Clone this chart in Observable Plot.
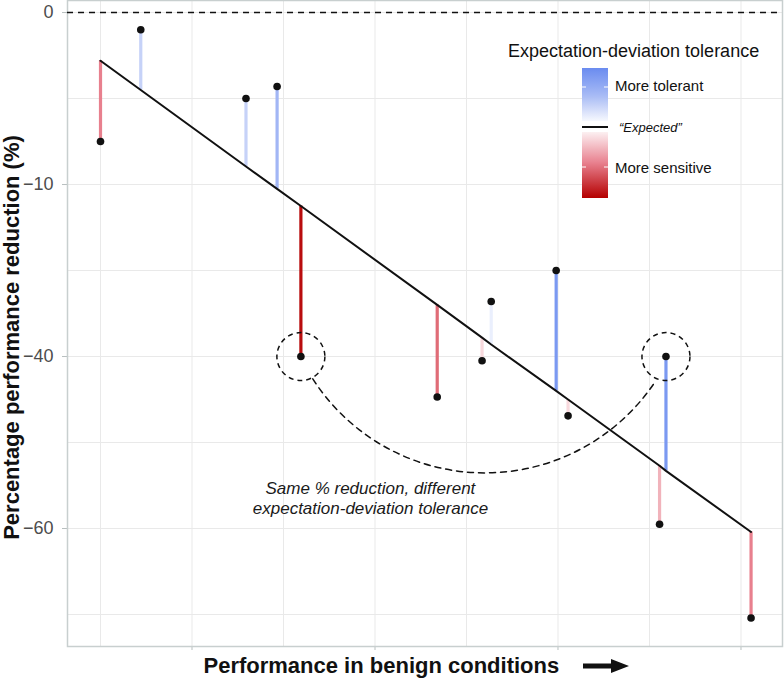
<!DOCTYPE html>
<html><head><meta charset="utf-8">
<script src="https://cdn.jsdelivr.net/npm/d3@7"></script>
<script src="https://cdn.jsdelivr.net/npm/@observablehq/plot@0.6"></script>
<style>
body{margin:0;background:#fff;}
#wrap{position:relative;width:784px;height:679px;}
#wrap svg{position:absolute;left:0;top:0;}
</style></head><body><div id="wrap"></div>
<script>
const FONT = '"Liberation Sans", Arial, Helvetica, sans-serif';

// ---- data ----
const xPos      = [0.0, 0.44, 1.59, 1.93, 2.19, 3.68, 4.17, 4.27, 4.98, 5.11, 6.11, 6.18, 7.11];
const observed  = [-15.0, -2.0, -10.0, -8.6, -40.0, -44.7, -40.5, -33.6, -30.0, -46.9, -59.5, -40.0, -70.4];
const expected  = [-5.6, -9.0, -17.9, -20.5, -22.5, -34.0, -37.8, -38.6, -44.0, -45.0, -52.7, -53.3, -60.4];
const tolerance = [-0.5, 0.33, 0.33, 0.55, -0.95, -0.58, -0.15, 0.12, 0.86, -0.15, -0.3, 0.86, -0.5];

const xGrid = [0, 1, 2, 3, 4, 5, 6, 7];
const xTicks = [1, 3, 5, 7];
const yGrid = [0, -10, -20, -30, -40, -50, -60, -70];
const yTicks = [0, -20, -40, -60];
const yTickLabels = ["0", "\u221210", "\u221240", "\u221260"];
const zeroLine = [0];

const tolDomain = [-1, -0.5, 0, 0.5, 1];
const tolColors = ["#b40000", "#e8808e", "#ffffff", "#a8bbf5", "#6a8cf0"];

const circledIdx = [4, 11];
const curveStart = [2.32, -42.6];
const curveEnd = [6.07, -42.8];
const noteText = "Same % reduction, different\nexpectation-deviation tolerance";
const notePos = [2.95, -56.4];

const legendTitle = "Expectation-deviation tolerance";
const legendLabels = ["More tolerant", "\u201cExpected\u201d", "More sensitive"];
const xTitle = "Performance in benign conditions";
const yTitle = "Percentage performance reduction (%)";

// ---- build ----
const points = xPos.map((x, i) => ({x, obs: observed[i], exp: expected[i], tol: tolerance[i]}));
const circled = circledIdx.map(i => points[i]);
const curve = [{x1: curveStart[0], y1: curveStart[1], x2: curveEnd[0], y2: curveEnd[1]}];
const note = [{x: notePos[0], y: notePos[1], text: noteText}];
const colorOpts = {type: "linear", domain: tolDomain, range: tolColors, interpolate: "rgb"};

const chart = Plot.plot({
  width: 784, height: 679,
  marginLeft: 67, marginRight: 2, marginTop: 0, marginBottom: 33,
  style: {fontFamily: FONT, background: "transparent"},
  x: {domain: [-0.3607, 7.4536], label: null},
  y: {domain: [-73.72, 1.4], label: null},
  color: colorOpts,
  marks: [
    Plot.gridX(xGrid, {stroke: "#e9e9e9", strokeOpacity: 1, strokeWidth: 1}),
    Plot.gridY(yGrid, {stroke: "#e9e9e9", strokeOpacity: 1, strokeWidth: 1}),
    Plot.axisX(xTicks, {tickSize: 4, tickFormat: () => "", stroke: "#b8bfbf", label: null}),
    Plot.axisY(yTicks, {tickSize: 5, tickPadding: 9, fontSize: 18, stroke: "#b8bfbf", fill: "#4d4d4d",
      tickFormat: d => yTickLabels[yTicks.indexOf(d)], label: null}),
    Plot.frame({stroke: "#c8cfcf", strokeWidth: 1.5}),
    Plot.ruleY(zeroLine, {stroke: "#111", strokeWidth: 1.5, strokeDasharray: "6,5"}),
    Plot.ruleX(points, {x: "x", y1: "obs", y2: "exp", stroke: "tol", strokeWidth: 3.2}),
    Plot.line(points, {x: "x", y: "exp", stroke: "#111", strokeWidth: 2}),
    Plot.dot(points, {x: "x", y: "obs", r: 3.8, fill: "#111"}),
    Plot.dot(circled, {x: "x", y: "obs", r: 24, stroke: "#111", strokeWidth: 1.5, strokeDasharray: "5,4", fill: "none"}),
    Plot.arrow(curve, {x1: "x1", y1: "y1", x2: "x2", y2: "y2", bend: -57, headLength: 0,
      stroke: "#111", strokeWidth: 1.5, strokeDasharray: "6,5"}),
    Plot.text(note, {x: "x", y: "y", text: "text", fontSize: 17, fontStyle: "italic", lineHeight: 1.18, fill: "#1a1a1a"})
  ]
});
const wrap = document.getElementById("wrap");
wrap.appendChild(chart);

// ---- overlay: titles, legend ----
const cs = Plot.scale({color: colorOpts});
const ov = d3.select(wrap).append("svg").attr("width", 784).attr("height", 679)
  .style("font-family", FONT).style("pointer-events", "none");

// y title
ov.append("text").attr("transform", "translate(18.5,337.5) rotate(-90)")
  .attr("text-anchor", "middle").attr("font-size", 22).attr("font-weight", "bold").attr("fill", "#111")
  .text(yTitle);
// x title + arrow
ov.append("text").attr("x", 203.5).attr("y", 673).attr("font-size", 22).attr("font-weight", "bold").attr("fill", "#111")
  .text(xTitle);
ov.append("path").attr("d", "M583,663.5H611V659L629,666L611,673V668.5H583Z").attr("fill", "#111");

// legend
const defs = ov.append("defs");
function grad(id, t0, t1) {
  const g = defs.append("linearGradient").attr("id", id).attr("x1", 0).attr("x2", 0).attr("y1", 0).attr("y2", 1);
  const n = 20;
  for (let i = 0; i <= n; i++) {
    const t = t0 + (t1 - t0) * i / n;
    g.append("stop").attr("offset", i / n).attr("stop-color", cs.apply(t));
  }
}
grad("gBlue", 1, 0.05);
grad("gRed", -0.06, -1);
ov.append("text").attr("x", 508).attr("y", 57).attr("font-size", 18).attr("fill", "#111").text(legendTitle);
ov.append("rect").attr("x", 582).attr("y", 68).attr("width", 26).attr("height", 53).attr("fill", "url(#gBlue)");
ov.append("rect").attr("x", 582).attr("y", 132).attr("width", 26).attr("height", 66).attr("fill", "url(#gRed)");
ov.append("line").attr("x1", 582).attr("x2", 608).attr("y1", 127).attr("y2", 127).attr("stroke", "#111").attr("stroke-width", 2);
for (const yy of [87, 167]) {
  ov.append("line").attr("x1", 582).attr("x2", 586).attr("y1", yy).attr("y2", yy).attr("stroke", "#fff").attr("stroke-width", 1);
  ov.append("line").attr("x1", 604).attr("x2", 608).attr("y1", yy).attr("y2", yy).attr("stroke", "#fff").attr("stroke-width", 1);
}
ov.append("text").attr("x", 615).attr("y", 91).attr("font-size", 15).attr("fill", "#111").text(legendLabels[0]);
ov.append("text").attr("x", 619).attr("y", 132).attr("font-size", 13).attr("font-style", "italic").attr("fill", "#111").text(legendLabels[1]);
ov.append("text").attr("x", 615).attr("y", 173).attr("font-size", 15).attr("fill", "#111").text(legendLabels[2]);
</script></body></html>
